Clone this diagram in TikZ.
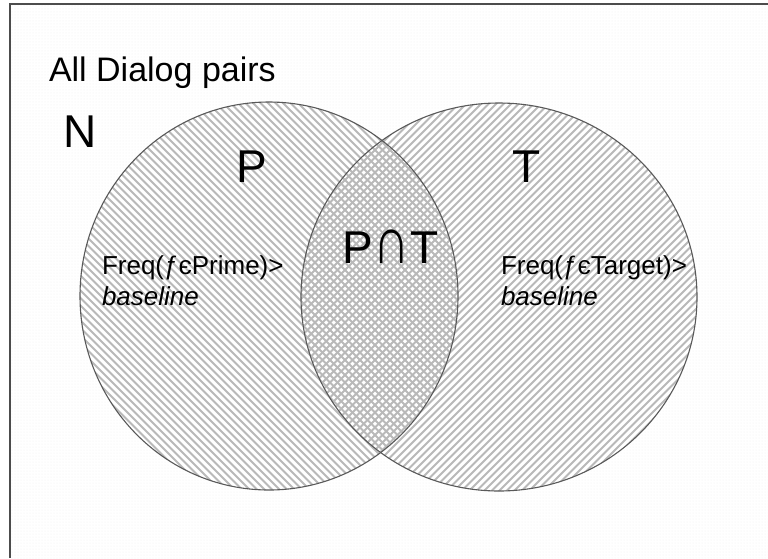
\documentclass[tikz,border=0pt]{standalone}
\usepackage{fontspec}
\setmainfont{Liberation Sans}
\usetikzlibrary{patterns}
\begin{document}
\begin{tikzpicture}[x=1pt,y=-1pt,
  lbl/.style={anchor=base west,inner sep=0pt,outer sep=0pt,text=black},
  hatch/.style={draw=gray!55,line width=1.9pt},
  outline/.style={draw=black!65,line width=1.1pt}]
\useasboundingbox (0,0) rectangle (768,558);
\fill[white] (0,0) rectangle (768,558);
\fill[pattern=dots,pattern color=gray!12] (10,4) rectangle (768,558);
\draw[black!70,line width=1.6pt] (10,558) -- (10,4) -- (768,4);
\coordinate (cP) at (269,296);
\coordinate (cT) at (499,297);
% left set P : \\\ hatching
\begin{scope}
  \clip (cP) ellipse [x radius=189,y radius=194];
  \fill[white] (cP) ellipse [x radius=189,y radius=194];
  \foreach \i in {-58,...,50} \draw[hatch] (\i*7.5,0) -- (\i*7.5+600,600);
\end{scope}
% right set T : /// hatching
\begin{scope}
  \clip (cT) ellipse [x radius=198,y radius=194];
  \path[fill=white,even odd rule] (cT) ellipse [x radius=198,y radius=194] (cP) ellipse [x radius=189,y radius=194];
  \foreach \i in {52,...,160} \draw[hatch] (\i*7.5,0) -- (\i*7.5-600,600);
\end{scope}
\draw[outline] (cP) ellipse [x radius=189,y radius=194];
\draw[outline] (cT) ellipse [x radius=198,y radius=194];
% labels
\node[lbl,font=\fontsize{34}{40}\selectfont] (all) at (49,81) {All Dialog pairs};
\node[lbl,font=\fontsize{46}{52}\selectfont] (N) at (63,147) {N};
\node[lbl,font=\fontsize{46}{52}\selectfont] (P) at (236,182) {P};
\node[lbl,font=\fontsize{46}{52}\selectfont] (T) at (512,182) {T};
\node[lbl,font=\fontsize{46}{52}\selectfont] (PT) at (342,263) {P\hspace{1pt}\scalebox{1.1}[1.45]{∩}T};
\node[lbl,font=\fontsize{26}{32}\selectfont] (fp) at (102,274) {Freq(ƒєPrime)>};
\node[lbl,font=\fontsize{26}{32}\selectfont\itshape] (bp) at (102,305) {baseline};
\node[lbl,font=\fontsize{26}{32}\selectfont] (ft) at (501,274) {Freq(ƒєTarget)>};
\node[lbl,font=\fontsize{26}{32}\selectfont\itshape] (bt) at (501,305) {baseline};
\end{tikzpicture}
\end{document}
